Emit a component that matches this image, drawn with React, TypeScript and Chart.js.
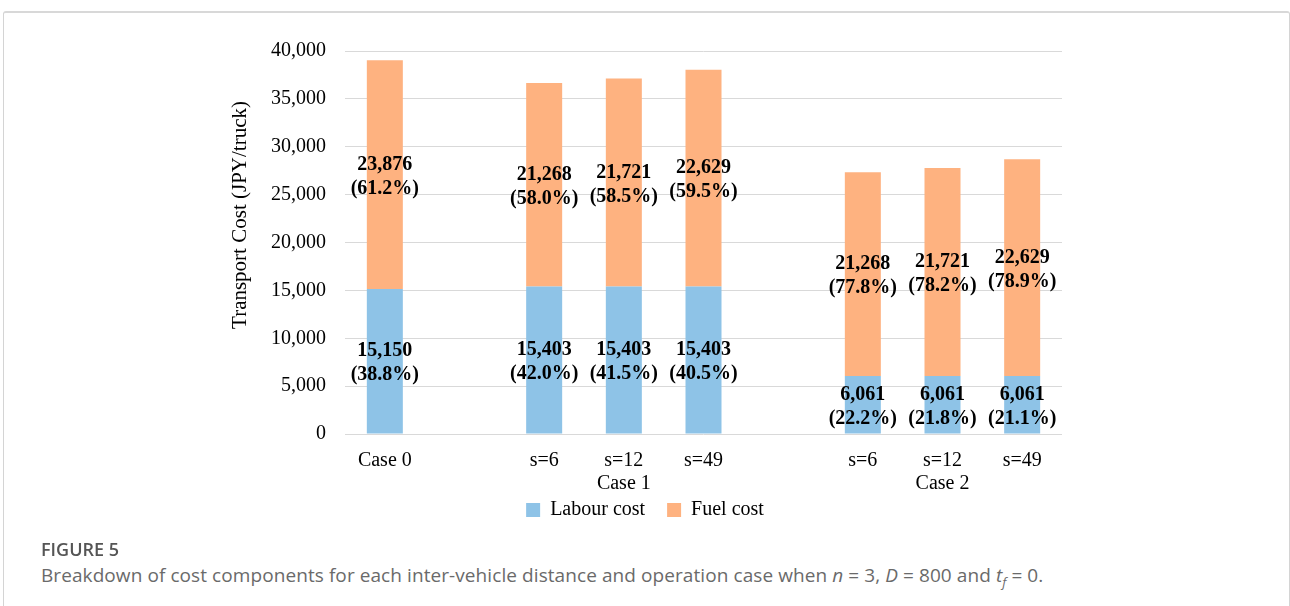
import React, { useEffect, useRef } from "react";
import { Chart, registerables } from "chart.js";

Chart.register(...registerables);

// ---- data ----
const categories: string[] = ["Case 0", "", "s=6", "s=12", "s=49", "", "s=6", "s=12", "s=49"];
const groupNames: string[] = ["Case 1", "Case 2"];
const groupCenterIndex: number[] = [3, 7];
const labourCost: (number | null)[] = [15150, null, 15403, 15403, 15403, null, 6061, 6061, 6061];
const fuelCost: (number | null)[] = [23876, null, 21268, 21721, 22629, null, 21268, 21721, 22629];
const labourPct: string[] = ["38.8%", "", "42.0%", "41.5%", "40.5%", "", "22.2%", "21.8%", "21.1%"];
const fuelPct: string[] = ["61.2%", "", "58.0%", "58.5%", "59.5%", "", "77.8%", "78.2%", "78.9%"];
const yMin = 0;
const yMax = 40000;
const yStep = 5000;
const seriesNames = ["Labour cost", "Fuel cost"];
const yTitle = "Transport Cost (JPY/truck)";

const SERIF = "'Liberation Serif', 'Times New Roman', serif";

const labelPlugin = {
  id: "segLabels",
  afterDatasetsDraw(chart: any) {
    const ctx = chart.ctx;
    ctx.save();
    ctx.font = `bold 20px ${SERIF}`;
    ctx.fillStyle = "#000";
    ctx.textAlign = "center";
    ctx.textBaseline = "middle";
    [labourPct, fuelPct].forEach((pcts, di) => {
      const meta = chart.getDatasetMeta(di);
      const data = chart.data.datasets[di].data;
      meta.data.forEach((el: any, i: number) => {
        const v = data[i];
        if (v == null) return;
        const cy = (el.y + el.base) / 2;
        ctx.fillText(Number(v).toLocaleString("en-US"), el.x, cy - 10);
        ctx.fillText("(" + pcts[i] + ")", el.x, cy + 14);
      });
    });
    // group labels (second level of the category axis)
    const xs = chart.scales.x;
    ctx.font = `20px ${SERIF}`;
    groupNames.forEach((g, gi) => {
      const px = xs.getPixelForValue(groupCenterIndex[gi]);
      ctx.fillText(g, px, chart.chartArea.bottom + 50);
    });
    // y axis title
    ctx.font = `21px ${SERIF}`;
    ctx.translate(240, 215);
    ctx.rotate(-Math.PI / 2);
    ctx.fillText(yTitle, 0, 0);
    ctx.restore();
  },
};

export default function App() {
  const ref = useRef<HTMLCanvasElement | null>(null);

  useEffect(() => {
    if (!ref.current) return;
    Chart.defaults.font.family = SERIF;
    Chart.defaults.font.size = 20;
    Chart.defaults.color = "#000";
    const chart = new Chart(ref.current, {
      type: "bar",
      data: {
        labels: categories,
        datasets: [
          {
            label: seriesNames[0],
            data: labourCost,
            backgroundColor: "#8EC3E7",
            stack: "s",
          },
          {
            label: seriesNames[1],
            data: fuelCost,
            backgroundColor: "#FEB280",
            stack: "s",
          },
        ],
      },
      options: {
        animation: false,
        responsive: false,
        maintainAspectRatio: false,
        devicePixelRatio: 1,
        layout: { padding: { left: 0, right: 0, top: 51, bottom: 10 } },
        datasets: {
          bar: { barPercentage: 0.452, categoryPercentage: 1 },
        },
        plugins: {
          tooltip: { enabled: false },
          legend: {
            position: "bottom",
            labels: {
              boxWidth: 14,
              boxHeight: 14,
              padding: 22,
              font: { size: 20, family: SERIF },
              color: "#000",
            },
          },
        },
        scales: {
          x: {
            stacked: true,
            grid: { display: false, drawTicks: false },
            border: { display: false },
            ticks: {
              autoSkip: false,
              maxRotation: 0,
              minRotation: 0,
              padding: 15,
              font: { size: 20, family: SERIF },
              color: "#000",
            },
            afterFit(scale: any) {
              scale.height = 44;
            },
          },
          y: {
            stacked: true,
            min: yMin,
            max: yMax,
            ticks: {
              stepSize: yStep,
              padding: 19,
              font: { size: 20, family: SERIF },
              color: "#000",
              callback: (v: any) => Number(v).toLocaleString("en-US"),
            },
            grid: { color: "#d9d9d9", lineWidth: 1, drawTicks: false },
            border: { display: false },
            afterFit(scale: any) {
              scale.width = 345;
            },
          },
          yRight: {
            position: "right",
            display: true,
            grid: { display: false, drawTicks: false },
            border: { display: false },
            ticks: { display: false },
            afterFit(scale: any) {
              scale.width = 228;
            },
          },
        },
      },
      plugins: [labelPlugin],
    } as any);
    return () => chart.destroy();
  }, []);

  return (
    <div style={{ position: "absolute", left: 0, top: 0, width: 1290, height: 606, overflow: "hidden", background: "#fff" }}>
      <div
        style={{
          position: "absolute",
          left: 3,
          top: 11,
          width: 1287,
          height: 640,
          boxSizing: "border-box",
          border: "1px solid #d4d4d4",
          borderTop: "2px solid #d8d8d8",
          borderRadius: 3,
        }}
      />
      <canvas
        ref={ref}
        width={1290}
        height={540}
        style={{ position: "absolute", left: 0, top: 0, width: 1290, height: 540 }}
      />
      <div
        style={{
          position: "absolute",
          left: 41,
          top: 538,
          fontFamily: "'Open Sans', 'Noto Sans', sans-serif",
          fontWeight: 600,
          fontSize: 18,
          color: "#555",
          lineHeight: "22px",
          whiteSpace: "nowrap",
        }}
      >
        FIGURE 5
      </div>
      <div
        style={{
          position: "absolute",
          left: 41,
          top: 563,
          fontFamily: "'Open Sans', 'Noto Sans', sans-serif",
          fontSize: 19,
          letterSpacing: 0.08,
          color: "#6a6a6a",
          lineHeight: "24px",
          whiteSpace: "nowrap",
        }}
      >
        Breakdown of cost components for each inter-vehicle distance and operation case when <i>n</i> = 3,{" "}
        <i>D</i> = 800 and <i>t</i>
        <sub style={{ fontSize: 13, lineHeight: 0 }}>
          <i>f</i>
        </sub>{" "}
        = 0.
      </div>
    </div>
  );
}
